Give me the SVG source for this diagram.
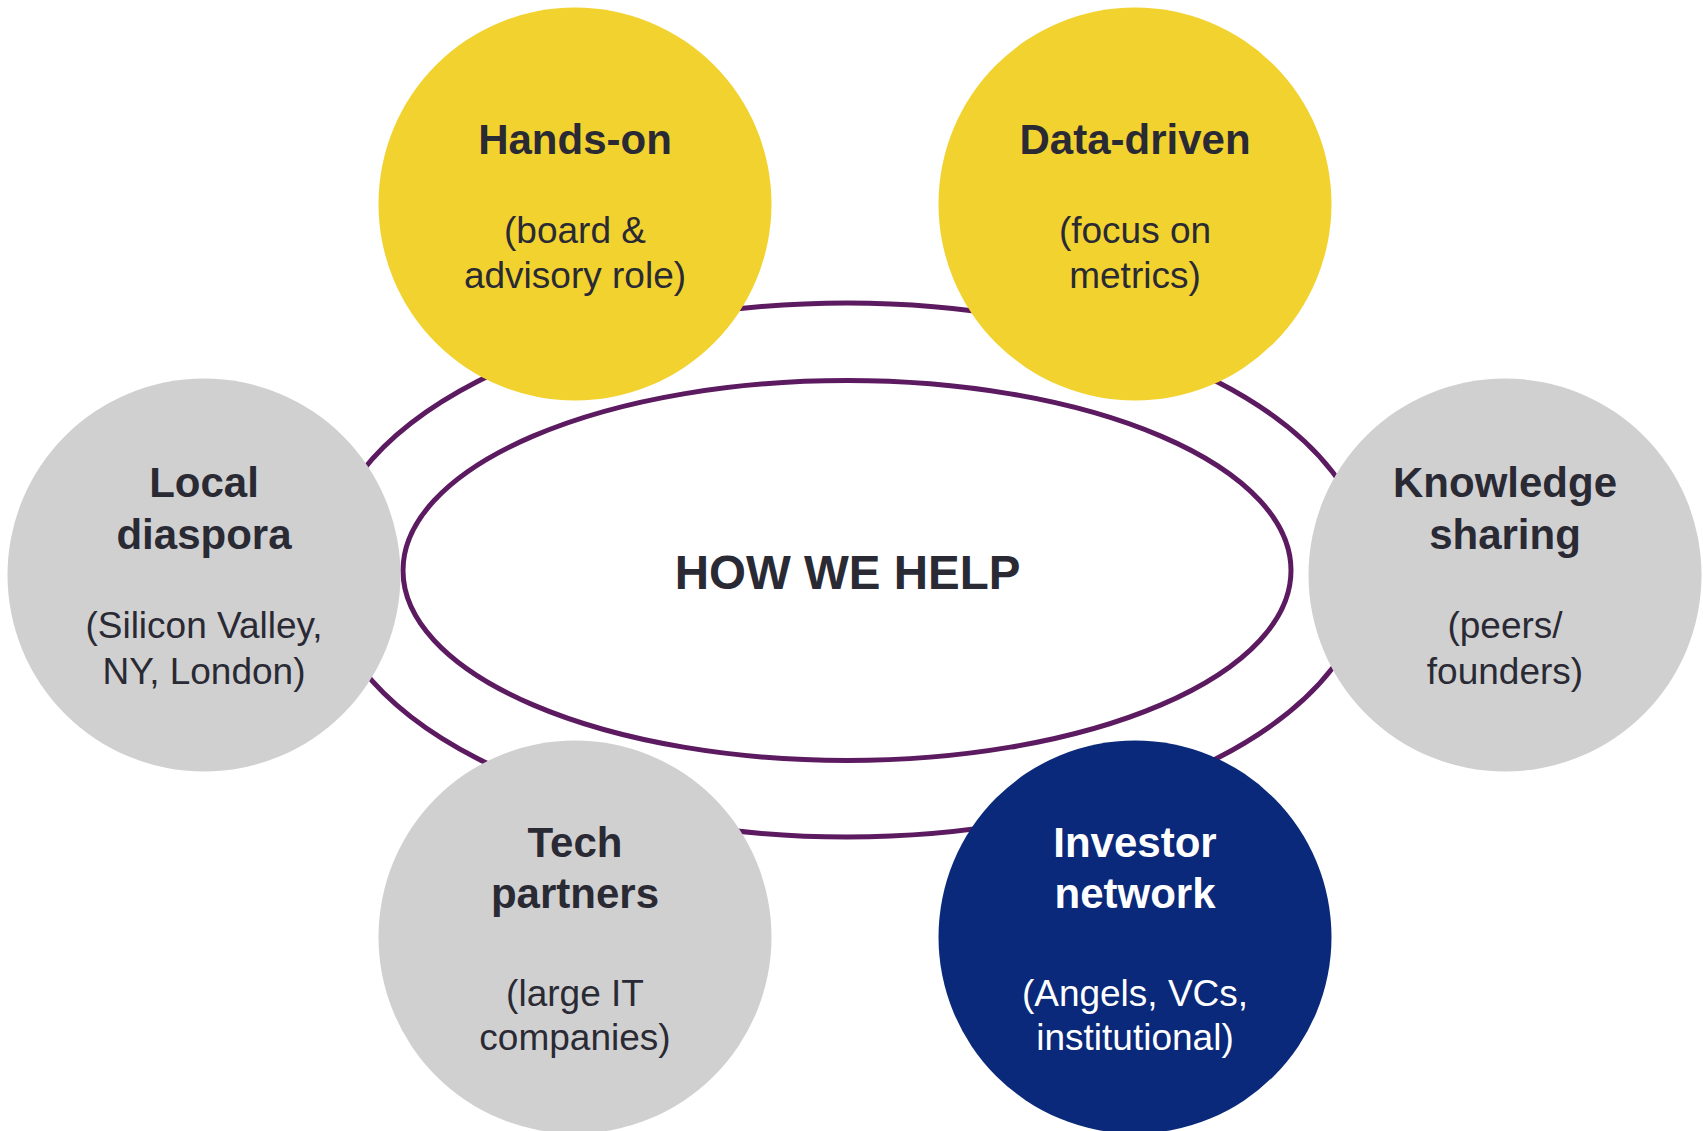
<svg xmlns="http://www.w3.org/2000/svg" width="1703" height="1131" viewBox="0 0 1703 1131">
<style>
.ring{fill:none;stroke:#5c1a60;stroke-width:5}
.yel{fill:#f2d22e}
.gry{fill:#d0d0d0}
.nav{fill:#0a297a}
.t{font-family:"Liberation Sans",Arial,sans-serif;text-anchor:middle;fill:#2a2a35}
.b{font-weight:bold;font-size:42px}
.r{font-size:37px}
.w{fill:#ffffff}
</style>
<rect width="1703" height="1131" fill="#ffffff"/>
<g id="connectors">
<ellipse class="ring" cx="847" cy="570" rx="522" ry="267"/>
</g>
<g id="center">
<ellipse cx="847" cy="570.5" rx="444" ry="190" fill="#ffffff" stroke="#5c1a60" stroke-width="5"/>
<text class="t" x="847.5" y="589" font-weight="bold" font-size="47.5">HOW WE HELP</text>
</g>
<g id="hands-on">
<circle class="yel" cx="575" cy="204" r="196.5"/>
<text class="t b" x="575" y="154">Hands-on</text>
<text class="t r" x="575" y="243">(board &amp;</text>
<text class="t r" x="575" y="288">advisory role)</text>
</g>
<g id="data-driven">
<circle class="yel" cx="1135" cy="204" r="196.5"/>
<text class="t b" x="1135" y="154">Data-driven</text>
<text class="t r" x="1135" y="243">(focus on</text>
<text class="t r" x="1135" y="288">metrics)</text>
</g>
<g id="local-diaspora">
<circle class="gry" cx="204" cy="575" r="196.5"/>
<text class="t b" x="204" y="497">Local</text>
<text class="t b" x="204" y="549">diaspora</text>
<text class="t r" x="204" y="638">(Silicon Valley,</text>
<text class="t r" x="204" y="684">NY, London)</text>
</g>
<g id="knowledge-sharing">
<circle class="gry" cx="1505" cy="575" r="196.5"/>
<text class="t b" x="1505" y="497">Knowledge</text>
<text class="t b" x="1505" y="549">sharing</text>
<text class="t r" x="1505" y="638">(peers/</text>
<text class="t r" x="1505" y="684">founders)</text>
</g>
<g id="tech-partners">
<circle class="gry" cx="575" cy="937" r="196.5"/>
<text class="t b" x="575" y="857">Tech</text>
<text class="t b" x="575" y="908">partners</text>
<text class="t r" x="575" y="1006">(large IT</text>
<text class="t r" x="575" y="1050">companies)</text>
</g>
<g id="investor-network">
<circle class="nav" cx="1135" cy="937" r="196.5"/>
<text class="t b w" x="1135" y="857">Investor</text>
<text class="t b w" x="1135" y="908">network</text>
<text class="t r w" x="1135" y="1006">(Angels, VCs,</text>
<text class="t r w" x="1135" y="1050">institutional)</text>
</g>
</svg>
